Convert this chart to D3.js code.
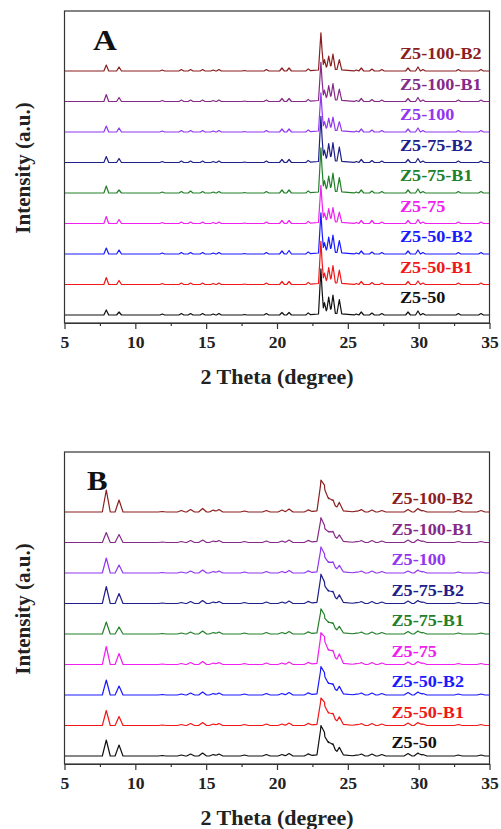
<!DOCTYPE html>
<html>
<head>
<meta charset="utf-8">
<script src="https://cdn.jsdelivr.net/npm/d3@7"></script>
<style>
  html, body { margin: 0; padding: 0; background: #fff; }
  svg { display: block; }
</style>
</head>
<body>
<svg id="chart" width="501" height="829"></svg>
<script>
// Samples, listed from the top trace down
const samples = ["Z5-100-B2", "Z5-100-B1", "Z5-100", "Z5-75-B2", "Z5-75-B1", "Z5-75", "Z5-50-B2", "Z5-50-B1", "Z5-50"];
const colors = ["#8b1f1f", "#862a88", "#9236f0", "#20208a", "#23802a", "#f020f0", "#1a1aff", "#f01818", "#111111"];

// 2θ axis ticks
const xTicks = [5, 10, 15, 20, 25, 30, 35];
const xMinorTicks = [7.5, 12.5, 17.5, 22.5, 27.5, 32.5];

// Reflection positions (2θ, degree)
const peakAngles = [7.95, 8.85, 11.9, 13.25, 13.9, 14.75, 15.5, 15.9, 17.7, 19.25, 20.35, 20.85, 22.2,
                    23.1, 23.35, 23.65, 23.95, 24.4, 25.6, 25.95, 26.7, 27.4, 29.25, 29.95, 30.3, 32.8, 34.4];

// Panel A: reflection intensities (a.u.), one row per sample
const intensityA = [
  [6, 4, 1, 1.5, 1.5, 1.5, 1, 1.5, 0.5, 1.5, 3, 3, 2, 37, 10, 13, 15, 10, 1, 3, 2, 1.5, 3, 4, 1.5, 1.5, 1.5],
  [7, 4, 1, 1.5, 1.5, 1.5, 1, 1.5, 0.5, 1.5, 3, 3, 2, 38, 10, 14, 16, 11, 1, 3, 2, 1.5, 3, 4, 1.5, 1.5, 1.5],
  [6, 4, 1, 1.5, 1.5, 1.5, 1, 1.5, 0.5, 1.5, 3, 3, 2, 38, 9, 12, 13, 9, 1, 3, 2, 1.5, 3, 4, 1.5, 1.5, 1.5],
  [6, 4, 1, 1.5, 1.5, 1.5, 1, 1.5, 0.5, 1.5, 3, 3, 2, 45, 11, 17, 18, 14, 1, 3, 2, 1.5, 3, 4, 1.5, 1.5, 1.5],
  [7, 3, 1, 1.5, 2, 1.5, 1, 1.5, 0.5, 1.5, 3, 3, 2, 44, 11, 15, 18, 14, 1, 3, 2, 1.5, 3, 4, 1.5, 1.5, 1.5],
  [7, 4, 1, 1.5, 1.5, 1.5, 1, 1.5, 0.5, 1.5, 3, 3, 2, 37, 9, 13, 14, 10, 1, 3, 3, 1.5, 3, 4, 1.5, 1.5, 1.5],
  [6, 4, 1, 1.5, 1.5, 1.5, 1, 1.5, 0.5, 1.5, 3, 3.5, 2, 40, 10, 15, 17, 12, 1, 3, 2, 1.5, 3, 4, 1.5, 1.5, 1.5],
  [7, 4, 1, 1.5, 1.5, 1.5, 1, 1.5, 0.5, 1.5, 3, 3, 2, 42, 10, 15, 17, 13, 1, 3, 2, 1.5, 3, 3.5, 1.5, 1.5, 1.5],
  [5, 3, 1, 1.5, 1.5, 1.5, 1, 1.5, 0.5, 1.5, 2.5, 2.5, 2, 45, 11, 16, 18, 14, 1, 3, 2, 1.5, 3, 4, 1.5, 1.5, 1.5]
];

// Panel B: reflection intensities (a.u.), one row per sample
const intensityB = [
  [22, 12, 0.5, 1.5, 2.5, 3.5, 2, 2.5, 1, 1.5, 2, 3, 2, 28, 22, 12, 10, 8, 1, 2.5, 2, 1.5, 2.5, 3.5, 1.5, 1.5, 1.5],
  [10, 8, 0.5, 1, 2, 2.5, 1.5, 2, 1, 1.5, 1.5, 2.5, 2, 22, 13, 9, 9, 6, 1, 2, 2, 1.5, 2.5, 3, 1.5, 1, 1],
  [15, 8, 0.5, 1, 2, 3, 1.5, 2, 1, 1.5, 1.5, 2.5, 2, 23, 15, 9, 9, 6, 1, 2, 2, 1.5, 2, 3, 1.5, 1, 1],
  [17, 10, 0.5, 1, 2, 3, 1.5, 2, 1, 1.5, 1.5, 2.5, 2, 26, 17, 11, 10, 7, 1, 2, 2, 1.5, 2.5, 3, 1.5, 1, 1],
  [12, 7, 0.5, 1, 2, 3, 1.5, 2, 1, 1.5, 1.5, 2.5, 2, 22, 15, 10, 9, 6, 1, 2, 2, 1.5, 2.5, 3, 1.5, 1, 1],
  [18, 11, 0.5, 1, 2, 3, 1.5, 2, 1, 1.5, 1.5, 2.5, 2, 28, 23, 13, 12, 9, 1, 2, 2, 1.5, 2.5, 3, 1.5, 1, 1],
  [15, 9, 0.5, 1, 2, 3, 1.5, 2, 1, 1.5, 1.5, 2.5, 2, 25, 18, 10, 9, 7, 1, 2, 2, 1.5, 2.5, 3, 1.5, 1, 1],
  [15, 9, 0.5, 1, 2, 3, 1.5, 2, 1, 1.5, 1.5, 2.5, 2, 24, 19, 11, 10, 7, 1, 2, 2, 1.5, 2.5, 3, 1.5, 1, 1],
  [16, 11, 0.5, 1, 2, 3, 1.5, 2, 1, 1.5, 1.5, 2.5, 2, 27, 19, 12, 10, 7, 1, 2, 2, 1.5, 2.5, 3, 1.5, 1, 1]
];

// Broad amorphous hump under the main reflections (a.u.), per sample
const humpA = [2, 2, 2, 2, 2, 2, 2, 2, 2];
const humpB = [2.5, 2.5, 2.5, 2.5, 2.5, 2.5, 2.5, 2.5, 2.5];
const humpCenter = 23.8, humpHalfWidth = 1.7;

const FONT = "'Liberation Serif', 'Times New Roman', serif";
const STRETCH = 1.1;     // the serif lettering is set slightly wide
const STEP = 30.5;       // vertical offset between stacked patterns (a.u.)

const svg = d3.select("#chart");
const left = 64.5, right = 489.5;
const x = d3.scaleLinear().domain([5, 35]).range([left, right]);

const panels = [
  { letter: "A", top: 11, bottom: 323, rows: intensityA, hump: humpA, halfWidth: 0.17,
    letterX: 93, letterY: 50, letterSize: 30, labelX: 400, labelDy: -12 },
  { letter: "B", top: 452, bottom: 764, rows: intensityB, hump: humpB, halfWidth: 0.28,
    letterX: 87, letterY: 490, letterSize: 28, labelX: 391.5, labelDy: -8 }
];

function stretchedText(g, tx, ty, str, size, anchor, fill) {
  return g.append("text")
    .attr("transform", `translate(${tx},${ty}) scale(${STRETCH},1)`)
    .attr("text-anchor", anchor)
    .attr("font-family", FONT)
    .attr("font-weight", "bold")
    .attr("font-size", size)
    .attr("fill", fill)
    .text(str);
}

// Piecewise-linear profile built from the reflection list
function profile(row, hump, hw) {
  const pts = new Set([5, 35, humpCenter - humpHalfWidth, humpCenter, humpCenter + humpHalfWidth]);
  peakAngles.forEach(a => { pts.add(a - hw); pts.add(a); pts.add(a + hw); });
  const xs = Array.from(pts).filter(v => v >= 5 && v <= 35).sort((a, b) => a - b);
  return xs.map(t => {
    let v = hump * Math.max(0, 1 - Math.abs(t - humpCenter) / humpHalfWidth);
    peakAngles.forEach((a, i) => {
      v += row[i] * Math.max(0, 1 - Math.abs(t - a) / hw);
    });
    return [t, v];
  });
}

panels.forEach(p => {
  const g = svg.append("g");
  const y = d3.scaleLinear().domain([-8, 304]).range([p.bottom, p.top]);
  const line = d3.line().x(d => x(d[0])).y(d => y(d[1]));

  // Stacked patterns; lower ones are drawn last so they sit on top
  samples.forEach((name, i) => {
    const offset = (samples.length - 1 - i) * STEP;
    const data = profile(p.rows[i], p.hump[i], p.halfWidth).map(d => [d[0], d[1] + offset]);
    g.append("path")
      .datum(data)
      .attr("d", line)
      .attr("fill", "none")
      .attr("stroke", colors[i])
      .attr("stroke-width", 1.2)
      .attr("stroke-linejoin", "round");
    stretchedText(g, p.labelX, y(offset) + p.labelDy, name, 16.5, "start", colors[i]);
  });

  // Frame
  g.append("rect")
    .attr("x", left).attr("y", p.top)
    .attr("width", right - left).attr("height", p.bottom - p.top)
    .attr("fill", "none").attr("stroke", "#333").attr("stroke-width", 1.2);

  // Bottom axis: major ticks with labels, minor ticks without
  const axis = g.append("g").attr("transform", `translate(0,${p.bottom})`)
    .call(d3.axisBottom(x).tickValues(xTicks).tickSize(6).tickSizeOuter(0).tickPadding(8).tickFormat(d3.format("d")));
  axis.select(".domain").attr("stroke", "#333").attr("stroke-width", 1.2);
  axis.selectAll(".tick line").attr("stroke", "#333").attr("stroke-width", 1.2);
  axis.selectAll(".tick text")
    .attr("font-family", FONT).attr("font-weight", "bold").attr("font-size", 16)
    .attr("fill", "#222").attr("transform", `scale(${STRETCH},1)`);

  const minor = g.append("g").attr("transform", `translate(0,${p.bottom})`)
    .call(d3.axisBottom(x).tickValues(xMinorTicks).tickSize(3).tickSizeOuter(0).tickFormat(""));
  minor.select(".domain").remove();
  minor.selectAll(".tick line").attr("stroke", "#333").attr("stroke-width", 1.2);

  // Axis titles
  stretchedText(g, (left + right) / 2, p.bottom + 61, "2 Theta (degree)", 20, "middle", "#222");
  g.append("text")
    .attr("transform", `translate(30,${(p.top + p.bottom) / 2 + 1}) rotate(-90)`)
    .attr("text-anchor", "middle")
    .attr("font-family", FONT).attr("font-weight", "bold").attr("font-size", 21)
    .attr("fill", "#222")
    .text("Intensity (a.u.)");

  // Panel letter
  stretchedText(g, p.letterX, p.letterY, p.letter, p.letterSize, "start", "#111");
});
</script>
</body>
</html>
